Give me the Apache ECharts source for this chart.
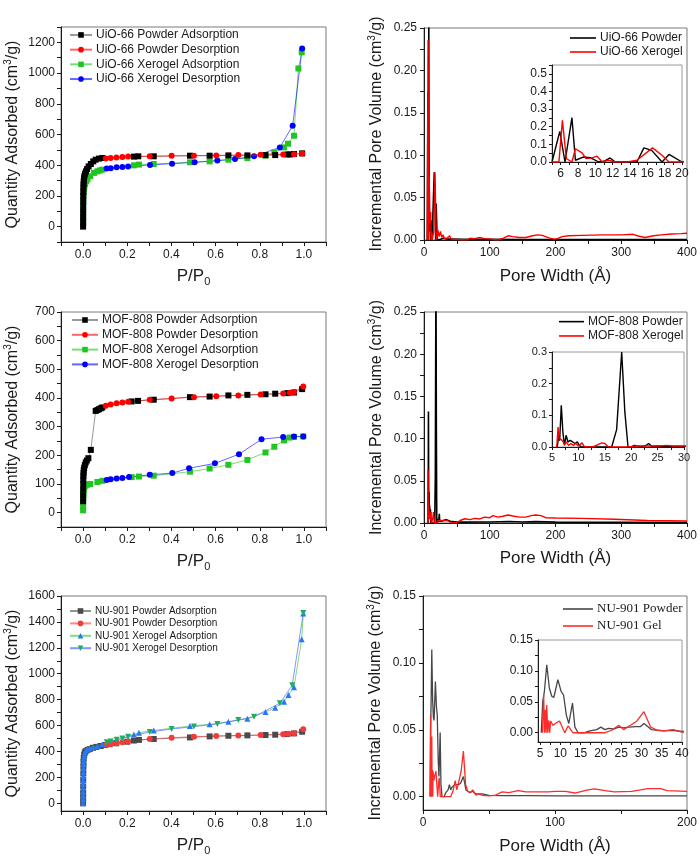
<!DOCTYPE html>
<html>
<head>
<meta charset="utf-8">
<script src="https://cdn.jsdelivr.net/npm/echarts@6/dist/echarts.min.js"></script>
<style>
  html, body { margin: 0; padding: 0; background: #fff; }
  #chart { width: 700px; height: 858px; }
</style>
</head>
<body>
<div id="chart"></div>
<script>
/* ------------------------------- Isotherms -------------------------------- */
// [P/P0, quantity adsorbed (cm3/g)]
const uioPowderAds = [[0.0001,0],[0.0002,30],[0.0003,60],[0.0004,95],[0.0005,130],[0.0007,165],[0.0009,200],[0.0012,230],[0.0016,255],[0.002,275],[0.0028,295],[0.004,315],[0.006,330],[0.009,345],[0.013,360],[0.018,375],[0.025,392],[0.035,408],[0.046,425],[0.057,436],[0.072,443],[0.087,447],[0.23,456],[0.25,458],[0.32,458],[0.484,462],[0.573,462],[0.658,464],[0.744,464],[0.826,466],[0.87,466],[0.925,470],[0.937,470],[0.955,473],[0.992,477]];
const uioPowderDes = [[0.992,477],[0.955,471],[0.906,469],[0.804,468],[0.703,466],[0.603,464],[0.502,462],[0.401,461],[0.302,458],[0.204,456],[0.178,453],[0.151,451],[0.125,447],[0.103,443]];
const uioXerogelAds = [[0.0001,15],[0.0003,60],[0.0006,110],[0.001,160],[0.0015,200],[0.0025,225],[0.004,245],[0.006,262],[0.009,278],[0.014,295],[0.02,308],[0.032,328],[0.05,350],[0.065,360],[0.076,366],[0.087,371],[0.23,399],[0.253,404],[0.32,408],[0.484,419],[0.573,425],[0.658,436],[0.744,447],[0.826,462],[0.866,484],[0.91,516],[0.928,540],[0.955,592],[0.975,1030],[0.99,1135]];
const uioXerogelDes = [[0.992,1160],[0.949,657],[0.891,516],[0.774,458],[0.688,440],[0.608,430],[0.505,419],[0.403,410],[0.303,402],[0.204,392],[0.178,388],[0.152,386],[0.125,381],[0.107,378]];

const mofPowderAds = [[0.0001,40],[0.0002,60],[0.0004,80],[0.0007,100],[0.001,115],[0.0015,128],[0.002,138],[0.003,148],[0.005,157],[0.008,166],[0.012,175],[0.017,182],[0.024,190],[0.035,219],[0.057,355],[0.065,358],[0.072,361],[0.08,364],[0.087,367],[0.22,388],[0.249,390],[0.32,394],[0.484,403],[0.573,405],[0.658,409],[0.744,411],[0.826,413],[0.87,415],[0.925,417],[0.955,419],[0.992,431]];
const mofPowderDes = [[0.997,440],[0.955,421],[0.937,418],[0.906,416],[0.804,412],[0.703,409],[0.603,406],[0.502,403],[0.401,398],[0.302,394],[0.204,387],[0.178,384],[0.152,382],[0.125,377],[0.103,373]];
const mofXerogelAds = [[0.0001,8],[0.0002,20],[0.0004,35],[0.0007,50],[0.001,62],[0.0015,72],[0.0025,80],[0.004,86],[0.007,91],[0.012,95],[0.02,98],[0.032,100],[0.065,107],[0.087,111],[0.22,124],[0.253,126],[0.32,129],[0.484,143],[0.573,154],[0.658,167],[0.744,184],[0.826,210],[0.866,230],[0.91,252],[0.935,262],[0.955,264],[0.997,266]];
const mofXerogelDes = [[0.997,266],[0.955,266],[0.906,264],[0.808,256],[0.706,204],[0.597,172],[0.48,155],[0.404,138],[0.302,132],[0.208,124],[0.178,121],[0.152,119],[0.125,117],[0.107,114]];

const nuPowderAds = [[0.0001,0],[0.0002,40],[0.0003,80],[0.0005,130],[0.0007,180],[0.001,230],[0.0015,280],[0.002,320],[0.003,350],[0.005,375],[0.008,392],[0.012,402],[0.02,412],[0.03,418],[0.045,428],[0.06,435],[0.08,442],[0.1,449],[0.12,456],[0.15,463],[0.2,475],[0.23,484],[0.253,489],[0.32,496],[0.484,508],[0.573,516],[0.658,521],[0.744,524],[0.826,527],[0.87,529],[0.925,534],[0.955,539],[0.992,552]];
const nuPowderDes = [[0.997,572],[0.955,540],[0.93,536],[0.906,533],[0.804,526],[0.703,522],[0.603,519],[0.502,514],[0.401,506],[0.302,496],[0.204,476],[0.178,470],[0.152,464],[0.125,457],[0.107,452]];
const nuXerogelAds = [[0.0001,0],[0.0002,30],[0.0003,60],[0.0004,90],[0.0005,120],[0.0007,150],[0.0009,180],[0.0012,210],[0.0015,240],[0.002,270],[0.0025,300],[0.003,325],[0.004,350],[0.006,375],[0.009,395],[0.014,410],[0.02,418],[0.03,425],[0.045,433],[0.065,442],[0.087,455],[0.23,530],[0.253,545],[0.32,562],[0.484,596],[0.573,609],[0.658,629],[0.744,652],[0.826,704],[0.87,737],[0.91,783],[0.93,835],[0.955,896],[0.99,1266],[0.997,1464]];
const nuXerogelDes = [[0.997,1468],[0.947,910],[0.891,772],[0.774,668],[0.703,643],[0.608,612],[0.502,592],[0.401,573],[0.302,550],[0.204,514],[0.178,500],[0.152,490],[0.125,477],[0.107,470]];

/* -------------------------- Pore size distributions ----------------------- */
// [pore width (A), incremental pore volume (cm3/g)]
const uioPowderPsd = [[5,0],[5.9,0.174],[6.5,0],[7.3,0.251],[7.7,0.01],[8.6,0.028],[9.4,0.025],[10.4,0],[11,0.004],[11.7,0.023],[12.3,0],[14.8,0],[15.6,0.08],[16.5,0.066],[17.7,0],[18.5,0.043],[20,0],[22,0.002],[25,0.001],[30,0.002],[35,0.001],[40,0.001],[60,0.0008],[100,0.0008],[150,0.0006],[200,0.0006],[250,0.0005],[300,0.0005],[350,0.0005],[400,0.0005]];
const uioXerogelPsd = [[5,0],[5.8,0],[6.2,0.236],[6.65,0.02],[7.3,0],[7.7,0.075],[8.5,0.05],[8.9,0.02],[9.5,0.022],[10.2,0.033],[10.8,0],[11.5,0.01],[12.3,0],[13.7,0],[14.8,0.01],[16.6,0.08],[17.7,0.038],[18.5,0],[20,0],[21,0.012],[23,0.004],[25,0.01],[27,0.003],[29,0.006],[31,0.002],[33,0.004],[35,0.002],[37,0.004],[39,0.005],[41,0.001],[44,0],[65,0],[70,0.002],[77,0.0016],[85,0.003],[92,0.0016],[102,0.001],[112,0],[120,0.002],[128,0.005],[135,0.004],[145,0.003],[155,0.003],[165,0.005],[173,0.006],[180,0.0055],[190,0.0025],[198,0.001],[203,0.0015],[210,0.004],[220,0.005],[240,0.0055],[271,0.006],[301,0.006],[318,0.0067],[326,0.0047],[336,0.003],[349,0.005],[361,0.006],[376,0.007],[391,0.0075],[400,0.008]];

const mofPowderPsd = [[6,0],[6.27,0.037],[6.45,0.02],[6.76,0.132],[7.06,0.047],[7.36,0.005],[7.67,0.037],[8.03,0.016],[8.45,0.021],[8.9,0.016],[9.36,0.011],[9.8,0.016],[10.15,0.005],[10.6,0],[16.3,0],[17.24,0.055],[18.2,0.3],[18.8,0.11],[19.4,0],[20,0],[20.6,0.005],[21.8,0.001],[22.7,0.004],[23.3,0.011],[23.9,0.002],[25,0.003],[27,0.002],[30,0.002],[33,0.004],[36,0.002],[40,0.002],[50,0.001],[100,0.0012],[130,0.0018],[150,0.0012],[170,0.0016],[200,0.001],[300,0.0008],[400,0.0005]];
const mofXerogelPsd = [[5.9,0],[6.15,0.063],[6.33,0.026],[6.76,0.024],[7.1,0.016],[7.4,0.007],[7.7,0.016],[8.15,0.005],[8.6,0.011],[9.06,0.005],[9.5,0.011],[10,0.003],[10.3,0.007],[10.7,0.013],[11.06,0.003],[11.5,0],[12.7,0],[13.6,0.007],[14.4,0.013],[15,0.011],[15.7,0],[19.4,0],[21.2,0.003],[25.4,0.003],[26.6,0.005],[28,0.003],[30,0.003],[35,0.003],[40,0.001],[45,0.0005],[50,0.0005],[55,0.003],[62,0.005],[70,0.004],[77,0.0055],[85,0.0048],[92,0.007],[100,0.0063],[105,0.0087],[112,0.007],[120,0.008],[128,0.0095],[135,0.0083],[145,0.007],[155,0.007],[163,0.0087],[170,0.0095],[178,0.0087],[185,0.0063],[200,0.006],[240,0.0055],[290,0.0044],[340,0.003],[400,0.0024]];

const nuPowderPsd = [[5.3,0],[5.66,0.05],[6.08,0.067],[6.66,0.11],[7.3,0.072],[7.9,0.059],[8.4,0.057],[9.4,0.086],[10.2,0.067],[10.8,0.061],[11.5,0.028],[12.1,0.015],[13,0.048],[13.6,0.009],[14.4,0],[16,0],[17.3,0.003],[19,0.005],[20,0.009],[21,0.005],[21.9,0.007],[23.1,0.006],[24.4,0.009],[25.6,0.008],[26.9,0.009],[28.5,0.01],[29.8,0.01],[30.6,0.015],[31.4,0.011],[32.5,0.005],[33.9,0.004],[35.6,0.003],[37.7,0.004],[40,0.002],[45,0.002],[50,0.001],[60,0.0008],[80,0.0008],[100,0.0006],[150,0.0006],[200,0.0005]];
const nuGelPsd = [[5.6,0],[5.9,0.061],[6.1,0],[6.33,0.037],[6.5,0],[6.66,0.045],[6.9,0],[7.16,0.02],[7.4,0],[7.6,0.019],[8.2,0.012],[9,0.016],[9.8,0.019],[10.2,0.019],[11.1,0],[11.9,0.011],[12.3,0.014],[13.1,0],[21,0],[22.7,0.004],[24.4,0.012],[25.6,0.005],[27.3,0.012],[28.9,0.019],[30.6,0.034],[32.3,0.009],[33.9,0.004],[35.6,0.003],[37.8,0.005],[40,0.001],[42,0.002],[45,0.001],[50,0.0005],[55,0.0012],[60,0.0035],[65,0.003],[72,0.0045],[78,0.0035],[85,0.0035],[95,0.0035],[100,0.004],[108,0.004],[115,0.0027],[125,0.005],[130,0.0058],[138,0.0045],[145,0.0035],[158,0.004],[165,0.005],[170,0.006],[180,0.006],[185,0.0045],[200,0.004]];

/* ------------------------------- Tick labels ------------------------------ */
const isoXLabels = [0, 0.2, 0.4, 0.6, 0.8, 1.0];
const uioYLabels = [0, 200, 400, 600, 800, 1000, 1200];
const mofYLabels = [0, 100, 200, 300, 400, 500, 600, 700];
const nuYLabels = [0, 200, 400, 600, 800, 1000, 1200, 1400, 1600];
const psdXLabels = [0, 100, 200, 300, 400];
const psdYLabels = [0, 0.05, 0.1, 0.15, 0.2, 0.25];
const nuPsdXLabels = [0, 100, 200];
const nuPsdYLabels = [0, 0.05, 0.1, 0.15];
const uioInsetXLabels = [6, 8, 10, 12, 14, 16, 18, 20];
const uioInsetYLabels = [0, 0.1, 0.2, 0.3, 0.4, 0.5];
const mofInsetXLabels = [5, 10, 15, 20, 25, 30];
const mofInsetYLabels = [0, 0.1, 0.2, 0.3];
const nuInsetXLabels = [5, 10, 15, 20, 25, 30, 35, 40];
const nuInsetYLabels = [0, 0.05, 0.1, 0.15];

/* --------------------------------- Helpers -------------------------------- */
const SANS = '"Liberation Sans", Arial, sans-serif';
const SERIF = '"Liberation Serif", "Times New Roman", serif';
const INK = '#1a1a1a';

const steps = (min, max, step) => {
  const out = [];
  for (let v = min; v <= max + step / 1e6; v += step) out.push(Math.round(v * 1e6) / 1e6);
  return out;
};

const fixed = d => v => Number(v).toFixed(d);

const isoXName = {
  name: '{a|P/P}{s|0}',
  nameTextStyle: {
    rich: {
      a: { fontSize: 17, lineHeight: 22, color: INK, fontFamily: SANS },
      s: { fontSize: 11, lineHeight: 8, verticalAlign: 'bottom', color: INK, fontFamily: SANS }
    }
  }
};
const poreXName = {
  name: 'Pore Width (Å)',
  nameTextStyle: { fontSize: 17, color: INK, fontFamily: SANS }
};
const yName = text => ({
  name: `{a|${text} (cm}{p|3}{a|/g)}`,
  nameTextStyle: {
    rich: {
      a: { fontSize: 16, lineHeight: 20, color: INK, fontFamily: SANS },
      p: { fontSize: 10, lineHeight: 10, verticalAlign: 'top', color: INK, fontFamily: SANS }
    }
  }
});

const valueAxis = (grid, min, max, labels, ticks, fmt, opts = {}) => ({
  type: 'value',
  gridIndex: grid,
  min,
  max,
  splitLine: { show: false },
  axisLine: { show: true, onZero: false, lineStyle: { color: INK, width: 1 } },
  axisTick: { show: true, length: opts.tickLen || 4, customValues: ticks, lineStyle: { color: INK } },
  axisLabel: {
    customValues: labels,
    formatter: fmt,
    fontSize: opts.fontSize || 12,
    color: INK,
    fontFamily: SANS,
    margin: opts.margin || 6
  },
  nameLocation: 'middle',
  nameGap: opts.nameGap || 0,
  ...(opts.name || {})
});

const isoSeries = (name, data, axis, symbol, symbolColor, lineColor, z, rotate = 0) => ({
  name,
  type: 'line',
  data,
  xAxisIndex: axis,
  yAxisIndex: axis,
  symbol,
  symbolSize: 6,
  symbolRotate: rotate,
  z,
  itemStyle: { color: symbolColor },
  lineStyle: { color: lineColor, width: 1, opacity: 0.6 },
  animation: false
});

const psdSeries = (name, data, axis, color, width) => ({
  name,
  type: 'line',
  data,
  xAxisIndex: axis,
  yAxisIndex: axis,
  showSymbol: false,
  symbol: 'none',
  clip: true,
  itemStyle: { color },
  lineStyle: { color, width },
  animation: false
});

const legend = (names, left, top, itemWidth, lineHeight, fontSize, family, lineOnly) => ({
  data: names,
  orient: 'vertical',
  left,
  top,
  padding: 0,
  itemGap: 0,
  itemWidth,
  itemHeight: lineOnly ? 1.6 : 7,
  icon: lineOnly ? 'rect' : undefined,
  selectedMode: false,
  textStyle: { fontSize, lineHeight, color: INK, fontFamily: family, padding: [0, 0, 0, -1] }
});

/* ---------------------------------- Chart --------------------------------- */
const grids = [
  { left: 61, top: 27, width: 265, height: 215 },
  { left: 424, top: 28, width: 265, height: 212 },
  { left: 552, top: 65, width: 130, height: 97 },
  { left: 61, top: 312, width: 265, height: 215 },
  { left: 424, top: 312, width: 265, height: 211 },
  { left: 552, top: 352, width: 132, height: 95 },
  { left: 61, top: 596, width: 265, height: 215 },
  { left: 423, top: 596, width: 266, height: 214 },
  { left: 538, top: 640, width: 144, height: 102 }
].map((g, i) => ({
  ...g,
  show: true,
  borderColor: [2, 5, 8].includes(i) ? '#9a9a9a' : '#7a7a7a',
  borderWidth: 1,
  backgroundColor: 'transparent',
  containLabel: false
}));

const isoTicksX = steps(-0.1, 1.1, 0.1);

const xAxes = [
  valueAxis(0, -0.1, 1.1, isoXLabels, isoTicksX, fixed(1), { nameGap: 23, margin: 7, name: isoXName }),
  valueAxis(1, 0, 400, psdXLabels, steps(0, 400, 50), fixed(0), { nameGap: 28, margin: 7, name: poreXName }),
  valueAxis(2, 5, 20, uioInsetXLabels, steps(5, 20, 1), fixed(0), { margin: 6, tickLen: 3 }),
  valueAxis(3, -0.1, 1.1, isoXLabels, isoTicksX, fixed(1), { nameGap: 23, margin: 7, name: isoXName }),
  valueAxis(4, 0, 400, psdXLabels, steps(0, 400, 50), fixed(0), { nameGap: 27, margin: 7, name: poreXName }),
  valueAxis(5, 5, 30, mofInsetXLabels, steps(5, 30, 2.5), fixed(0), { margin: 5, tickLen: 3, fontSize: 11 }),
  valueAxis(6, -0.1, 1.1, isoXLabels, isoTicksX, fixed(1), { nameGap: 23, margin: 7, name: isoXName }),
  valueAxis(7, 0, 200, nuPsdXLabels, steps(0, 200, 50), fixed(0), { nameGap: 28, margin: 7, name: poreXName }),
  valueAxis(8, 4.5, 40, nuInsetXLabels, steps(5, 40, 2.5), fixed(0), { margin: 6, tickLen: 3 })
];

const yAxes = [
  valueAxis(0, -100, 1300, uioYLabels, steps(-100, 1300, 100), fixed(0), { nameGap: 38, name: yName('Quantity Adsorbed') }),
  valueAxis(1, 0, 0.25, psdYLabels, steps(0, 0.25, 0.025), fixed(2), { nameGap: 37, margin: 7, name: yName('Incremental Pore Volume') }),
  valueAxis(2, 0, 0.55, uioInsetYLabels, steps(0, 0.55, 0.05), fixed(1), { margin: 5, tickLen: 3 }),
  valueAxis(3, -50, 700, mofYLabels, steps(-50, 700, 50), fixed(0), { nameGap: 38, name: yName('Quantity Adsorbed') }),
  valueAxis(4, 0, 0.25, psdYLabels, steps(0, 0.25, 0.025), fixed(2), { nameGap: 37, margin: 7, name: yName('Incremental Pore Volume') }),
  valueAxis(5, 0, 0.3, mofInsetYLabels, steps(0, 0.3, 0.05), fixed(1), { margin: 5, tickLen: 3, fontSize: 11 }),
  valueAxis(6, -60, 1600, nuYLabels, steps(0, 1600, 100), fixed(0), { nameGap: 38, name: yName('Quantity Adsorbed') }),
  valueAxis(7, -0.01, 0.15, nuPsdYLabels, steps(0, 0.15, 0.025), fixed(2), { nameGap: 37, margin: 7, name: yName('Incremental Pore Volume') }),
  valueAxis(8, -0.015, 0.15, nuInsetYLabels, steps(0, 0.15, 0.025), fixed(2), { margin: 5, tickLen: 3 })
];

const BLACK = '#000000';
const RED = '#ff0000';
const GREEN = '#22c422';
const BLUE = '#0000ff';

const series = [
  isoSeries('UiO-66 Powder Adsorption', uioPowderAds, 0, 'rect', BLACK, '#555', 4),
  isoSeries('UiO-66 Powder Desorption', uioPowderDes, 0, 'circle', RED, RED, 4),
  isoSeries('UiO-66 Xerogel Adsorption', uioXerogelAds, 0, 'rect', GREEN, GREEN, 3),
  isoSeries('UiO-66 Xerogel Desorption', uioXerogelDes, 0, 'circle', BLUE, BLUE, 3),

  psdSeries('UiO-66 Powder', uioPowderPsd, 1, BLACK, 1.6),
  psdSeries('UiO-66 Xerogel', uioXerogelPsd, 1, RED, 1.4),
  psdSeries('UiO-66 Powder', uioPowderPsd, 2, BLACK, 1.4),
  psdSeries('UiO-66 Xerogel', uioXerogelPsd, 2, RED, 1.4),

  isoSeries('MOF-808 Powder Adsorption', mofPowderAds, 3, 'rect', BLACK, '#555', 4),
  isoSeries('MOF-808 Powder Desorption', mofPowderDes, 3, 'circle', RED, RED, 4),
  isoSeries('MOF-808 Xerogel Adsorption', mofXerogelAds, 3, 'rect', GREEN, GREEN, 3),
  isoSeries('MOF-808 Xerogel Desorption', mofXerogelDes, 3, 'circle', BLUE, BLUE, 3),

  psdSeries('MOF-808 Powder', mofPowderPsd, 4, BLACK, 1.6),
  psdSeries('MOF-808 Xerogel', mofXerogelPsd, 4, RED, 1.4),
  psdSeries('MOF-808 Powder', mofPowderPsd, 5, BLACK, 1.4),
  psdSeries('MOF-808 Xerogel', mofXerogelPsd, 5, RED, 1.4),

  isoSeries('NU-901 Powder Adsorption', nuPowderAds, 6, 'rect', '#4a4a4a', '#4a4a4a', 3),
  isoSeries('NU-901 Powder Desorption', nuPowderDes, 6, 'circle', '#f23c3c', '#f23c3c', 3),
  isoSeries('NU-901 Xerogel Adsorption', nuXerogelAds, 6, 'triangle', '#2a78f0', '#2fc12f', 4),
  isoSeries('NU-901 Xerogel Desorption', nuXerogelDes, 6, 'triangle', '#1fae5f', '#3050ff', 4, 180),

  psdSeries('NU-901 Powder', nuPowderPsd, 7, '#474747', 1.3),
  psdSeries('NU-901 Gel', nuGelPsd, 7, '#ff2a2a', 1.3),
  psdSeries('NU-901 Powder', nuPowderPsd, 8, '#474747', 1.3),
  psdSeries('NU-901 Gel', nuGelPsd, 8, '#ff2a2a', 1.3)
];

const legends = [
  legend(['UiO-66 Powder Adsorption', 'UiO-66 Powder Desorption', 'UiO-66 Xerogel Adsorption', 'UiO-66 Xerogel Desorption'], 69, 27.6, 22, 14.7, 12, SANS, false),
  legend(['UiO-66 Powder', 'UiO-66 Xerogel'], 570, 31, 26, 14, 12, SANS, true),
  legend(['MOF-808 Powder Adsorption', 'MOF-808 Powder Desorption', 'MOF-808 Xerogel Adsorption', 'MOF-808 Xerogel Desorption'], 71, 312.6, 26, 14.8, 12, SANS, false),
  legend(['MOF-808 Powder', 'MOF-808 Xerogel'], 559, 314.5, 25, 14.3, 12, SANS, true),
  legend(['NU-901 Powder Adsorption', 'NU-901 Powder Desorption', 'NU-901 Xerogel Adsorption', 'NU-901 Xerogel Desorption'], 69, 604.8, 21, 12.4, 10, SANS, false),
  legend(['NU-901 Powder', 'NU-901 Gel'], 563, 600.5, 30, 17, 13, SERIF, true)
];

const chart = echarts.init(document.getElementById('chart'), null, { renderer: 'canvas' });
chart.setOption({
  backgroundColor: '#ffffff',
  animation: false,
  grid: grids,
  xAxis: xAxes,
  yAxis: yAxes,
  legend: legends,
  series
});
</script>
</body>
</html>
